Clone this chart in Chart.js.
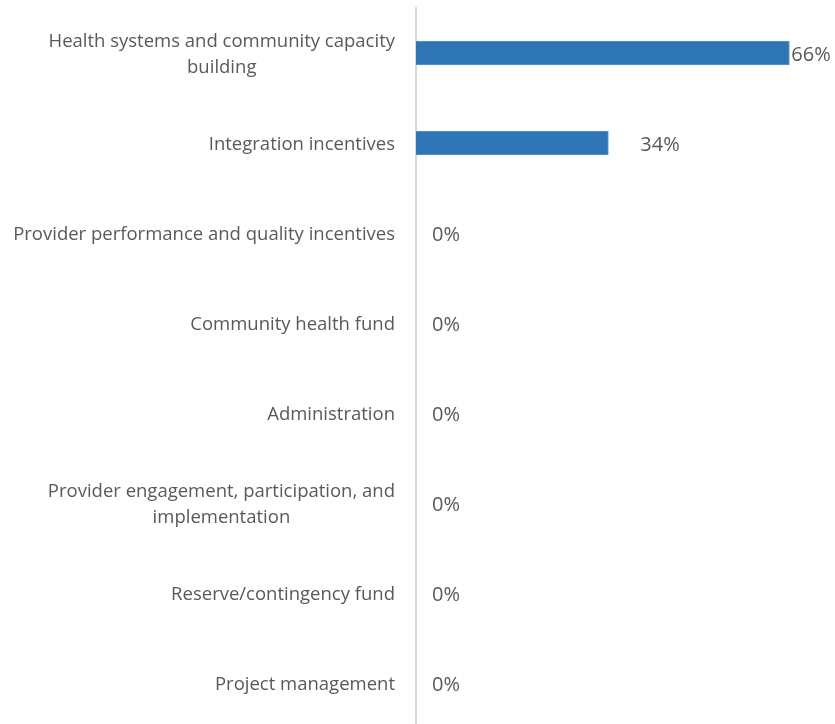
<!DOCTYPE html>
<html>
<head>
<meta charset="utf-8">
<script src="https://cdn.jsdelivr.net/npm/chart.js@4.4.1/dist/chart.umd.min.js"></script>
<style>
  html, body { margin: 0; padding: 0; background: #fff; overflow: hidden; }
  #wrap { width: 835px; height: 728px; }
</style>
</head>
<body>
<div id="wrap"><canvas id="fundChart"></canvas></div>
<script>
// categories (multi-line labels as arrays)
const categories = [
    ['Health systems and community capacity', 'building'],
    ['Integration incentives'],
    ['Provider performance and quality incentives'],
    ['Community health fund'],
    ['Administration'],
    ['Provider engagement, participation, and', 'implementation'],
    ['Reserve/contingency fund'],
    ['Project management']
];
const shares = [66, 34, 0, 0, 0, 0, 0, 0];
const labelGap = [2, 32, 16, 16, 16, 16, 16, 16];

const textColor = '#595959';
const fontFamily = '"Open Sans", "Noto Sans", sans-serif';

// draws category labels (centered lines, right edge near the axis) and value labels
const labelPlugin = {
    id: 'labelPlugin',
    afterDraw(chart) {
        const ctx = chart.ctx;
        const yScale = chart.scales.y;
        const meta = chart.getDatasetMeta(0);
        ctx.save();
        ctx.fillStyle = textColor;
        ctx.textBaseline = 'middle';

        ctx.font = '18.5px ' + fontFamily;
        const rightEdge = chart.chartArea.left - 21;
        const lineH = 26;
        categories.forEach((lines, i) => {
            const y = yScale.getPixelForValue(i) + 2;
            const maxW = Math.max(...lines.map(l => ctx.measureText(l).width));
            const cx = rightEdge - maxW / 2;
            ctx.textAlign = 'center';
            lines.forEach((l, j) => {
                ctx.fillText(l, cx, y + (j - (lines.length - 1) / 2) * lineH);
            });
        });

        ctx.font = '20px ' + fontFamily;
        ctx.textAlign = 'left';
        meta.data.forEach((bar, i) => {
            ctx.fillText(shares[i] + '%', bar.x + labelGap[i], bar.y + 2);
        });
        ctx.restore();
    }
};

new Chart(document.getElementById('fundChart'), {
    type: 'bar',
    data: {
        labels: categories,
        datasets: [{
            data: shares,
            backgroundColor: '#2E75B6',
            borderColor: '#5B9BD5',
            borderWidth: 1,
            barThickness: 24
        }]
    },
    options: {
        indexAxis: 'y',
        responsive: true,
        maintainAspectRatio: false,
        animation: false,
        layout: { padding: { top: 8, bottom: 0, right: 23, left: 0 } },
        plugins: {
            legend: { display: false },
            tooltip: { enabled: false }
        },
        scales: {
            x: {
                display: false,
                min: 0,
                max: 70
            },
            y: {
                grid: { display: false, drawTicks: false },
                border: { display: true, color: '#D9D9D9', width: 2 },
                ticks: { display: false },
                afterFit(scale) { scale.width = 416; }
            }
        }
    },
    plugins: [labelPlugin]
});
</script>
</body>
</html>
